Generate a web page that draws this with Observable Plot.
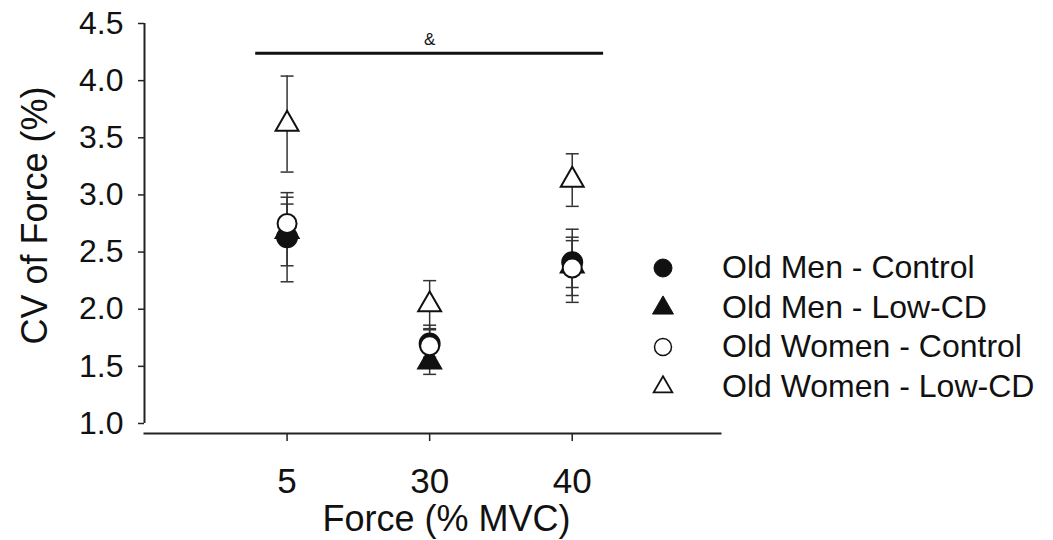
<!DOCTYPE html>
<html>
<head>
<meta charset="utf-8">
<script src="https://cdn.jsdelivr.net/npm/d3@7"></script>
<script src="https://cdn.jsdelivr.net/npm/@observablehq/plot@0.6"></script>
<style>
  html, body { margin: 0; padding: 0; background: #fff; }
  #wrap { position: relative; width: 1053px; height: 540px; font-family: "Liberation Sans", Arial, sans-serif; }
  #legend { position: absolute; left: 650px; top: 248px; color: #111; font-size: 32px; }
  .row { display: flex; align-items: center; height: 39.5px; }
  .row svg { width: 26px; height: 26px; margin-right: 46px; }
</style>
</head>
<body>
<div id="wrap"></div>
<script>
// ---- data ----
const forces = ["5", "30", "40"];
const groups = ["Old Men - Control", "Old Men - Low-CD", "Old Women - Control", "Old Women - Low-CD"];
const meanOMC = [2.63, 1.70, 2.41];
const seOMC   = [0.39, 0.12, 0.22];
const meanOML = [2.68, 1.54, 2.38];
const seOML   = [0.30, 0.11, 0.32];
const meanOWC = [2.75, 1.68, 2.36];
const seOWC   = [0.17, 0.18, 0.24];
const meanOWL = [3.62, 2.04, 3.13];
const seOWL   = [0.42, 0.21, 0.23];
const yTicks = [1.0, 1.5, 2.0, 2.5, 3.0, 3.5, 4.0, 4.5];
const sigBar = [{x1: -0.22, x2: 2.22, y: 4.24, label: "&", lx: 1, ly: 4.36}];

// ---- styles per group ----
const styles = {
  "Old Men - Control":   {symbol: "circle",   fill: "#111", stroke: "#111", r: 10},
  "Old Men - Low-CD":    {symbol: "triangle", fill: "#111", stroke: "#111", r: 8.5},
  "Old Women - Control": {symbol: "circle",   fill: "#fff", stroke: "#111", r: 9.5},
  "Old Women - Low-CD":  {symbol: "triangle", fill: "#fff", stroke: "#111", r: 8.5}
};
const means = {"Old Men - Control": meanOMC, "Old Men - Low-CD": meanOML, "Old Women - Control": meanOWC, "Old Women - Low-CD": meanOWL};
const ses = {"Old Men - Control": seOMC, "Old Men - Low-CD": seOML, "Old Women - Control": seOWC, "Old Women - Low-CD": seOWL};

const rows = [];
for (const g of groups) forces.forEach((f, i) => rows.push({group: g, xi: i, force: f, mean: means[g][i], lo: means[g][i] - ses[g][i], hi: means[g][i] + ses[g][i]}));

const capSymbol = {draw(ctx, size) { const w = 6.5; ctx.moveTo(-w, 0); ctx.lineTo(w, 0); }};
const xDomain = [-1, 3.04];
const drawOrder = ["Old Men - Low-CD", "Old Men - Control", "Old Women - Control", "Old Women - Low-CD"];

const font = "Liberation Sans, Arial, sans-serif";
const chart = Plot.plot({
  width: 1053,
  height: 540,
  marginLeft: 144,
  marginRight: 333,
  marginTop: 23,
  marginBottom: 107,
  style: {fontFamily: font, color: "#111", background: "#fff"},
  x: {type: "linear", domain: xDomain},
  y: {domain: [1, 4.5], range: [423, 23]},
  marks: [
    Plot.frame({anchor: "bottom", stroke: "#222", strokeWidth: 2}),
    Plot.ruleX([xDomain[0]], {y1: 1, y2: 4.5, stroke: "#222", strokeWidth: 2}),
    Plot.axisY({ticks: yTicks, tickFormat: d3.format(".1f"), tickSize: 6, tickPadding: 15, fontSize: 32, stroke: "#222", strokeWidth: 1.5, label: null}),
    Plot.axisX({ticks: [0, 1, 2], tickFormat: i => forces[i], tickSize: 8, tickPadding: 27, fontSize: 35, stroke: "#222", strokeWidth: 1.5, label: null}),
    Plot.text(["CV of Force (%)"], {frameAnchor: "left", textAnchor: "middle", dx: -109, dy: -13, rotate: -90, fontSize: 36, fill: "#111"}),
    Plot.text(["Force (% MVC)"], {frameAnchor: "bottom", textAnchor: "middle", dx: 14, dy: 97, fontSize: 36, fill: "#111"}),
    // significance bar
    Plot.ruleY(sigBar, {x1: "x1", x2: "x2", y: "y", stroke: "#111", strokeWidth: 3}),
    Plot.text(sigBar, {x: "lx", y: "ly", text: "label", fontSize: 17, fill: "#111"}),
    // error bars
    Plot.ruleX(rows, {x: "xi", y1: "lo", y2: "hi", stroke: "#333", strokeWidth: 1.5}),
    Plot.dot(rows, {x: "xi", y: "hi", symbol: capSymbol, stroke: "#333", strokeWidth: 1.5, r: 5}),
    Plot.dot(rows, {x: "xi", y: "lo", symbol: capSymbol, stroke: "#333", strokeWidth: 1.5, r: 5}),
    // markers
    ...drawOrder.map(g => Plot.dot(rows.filter(d => d.group === g), {
      x: "xi", y: "mean", symbol: styles[g].symbol, r: styles[g].r,
      fill: styles[g].fill, stroke: styles[g].stroke, strokeWidth: 2
    }))
  ]
});
document.getElementById("wrap").appendChild(chart);

// legend
const legend = document.createElement("div");
legend.id = "legend";
for (const g of groups) {
  const s = styles[g];
  const row = document.createElement("div");
  row.className = "row";
  const sym = s.symbol === "circle"
    ? `<circle cx="13" cy="13" r="${s.fill === "#fff" ? 8.5 : 9}" fill="${s.fill}" stroke="${s.stroke}" stroke-width="${s.fill === "#fff" ? 1.5 : 1}"/>`
    : `<path d="${d3.symbol(d3.symbolTriangle, s.fill === "#fff" ? 150 : 190)()}" transform="translate(13,14)" fill="${s.fill}" stroke="${s.stroke}" stroke-width="${s.fill === "#fff" ? 1.8 : 1}"/>`;
  row.innerHTML = `<svg viewBox="0 0 26 26">${sym}</svg><span>${g}</span>`;
  legend.appendChild(row);
}
document.getElementById("wrap").appendChild(legend);
</script>
</body>
</html>
